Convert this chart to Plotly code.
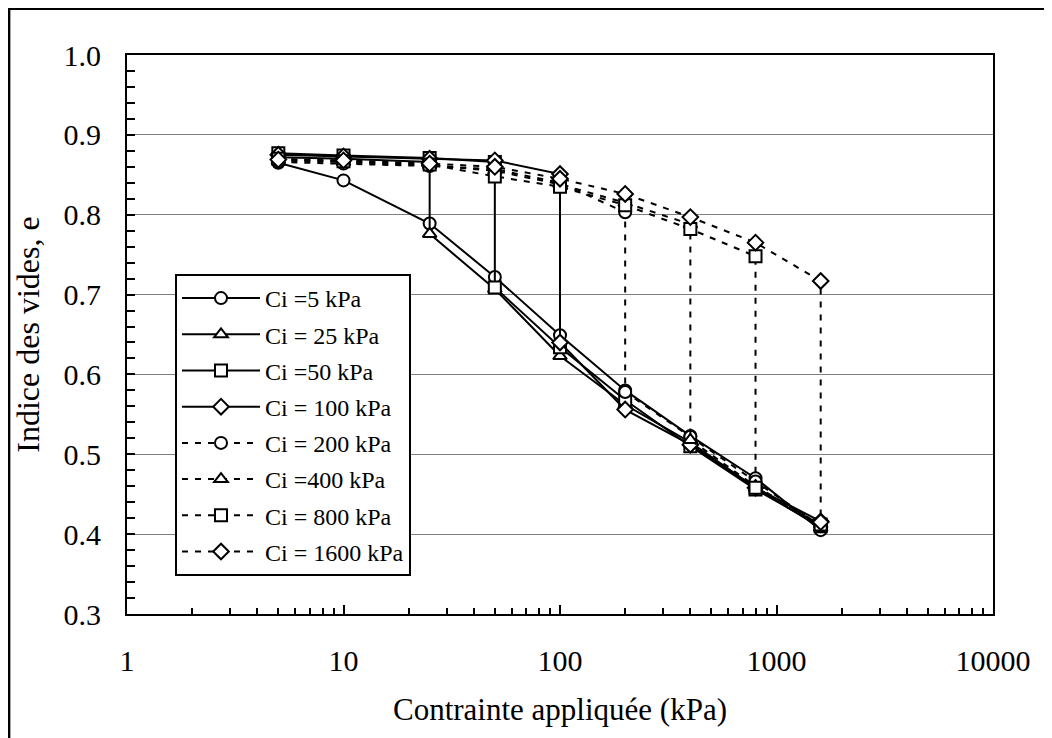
import plotly.graph_objects as go

# ---- data ----
stress = [5, 10, 25, 50, 100, 200, 400, 800, 1600]

names = ["Ci =5 kPa", "Ci = 25 kPa", "Ci =50 kPa", "Ci = 100 kPa",
         "Ci = 200 kPa", "Ci =400 kPa", "Ci = 800 kPa", "Ci = 1600 kPa"]

x_ci5 = [5, 10, 25, 50, 100, 200, 400, 800, 1600]
e_ci5 = [0.865, 0.843, 0.789, 0.722, 0.649, 0.580, 0.523, 0.470, 0.405]

x_ci25 = [5, 10, 25, 25, 50, 100, 200, 400, 800, 1600]
e_ci25 = [0.872, 0.870, 0.866, 0.776, 0.707, 0.623, 0.562, 0.515, 0.458, 0.408]

x_ci50 = [5, 10, 25, 50, 50, 100, 200, 400, 800, 1600]
e_ci50 = [0.877, 0.874, 0.871, 0.866, 0.709, 0.634, 0.568, 0.510, 0.456, 0.410]

x_ci100 = [5, 10, 25, 50, 100, 100, 200, 400, 800, 1600]
e_ci100 = [0.875, 0.873, 0.870, 0.868, 0.851, 0.640, 0.556, 0.512, 0.458, 0.416]

x_ci200 = [5, 10, 25, 50, 100, 200, 200, 400, 800, 1600]
e_ci200 = [0.866, 0.864, 0.861, 0.857, 0.840, 0.803, 0.578, 0.522, 0.466, 0.410]

x_ci400 = [5, 10, 25, 50, 100, 200, 400, 400, 800, 1600]
e_ci400 = [0.868, 0.866, 0.862, 0.855, 0.838, 0.815, 0.788, 0.518, 0.460, 0.412]

x_ci800 = [5, 10, 25, 50, 100, 200, 400, 800, 800, 1600]
e_ci800 = [0.870, 0.867, 0.863, 0.848, 0.835, 0.812, 0.782, 0.748, 0.458, 0.412]

x_ci1600 = [5, 10, 25, 50, 100, 200, 400, 800, 1600, 1600]
e_ci1600 = [0.869, 0.868, 0.864, 0.860, 0.845, 0.826, 0.797, 0.765, 0.717, 0.415]

x_tickvals = [1, 10, 100, 1000, 10000]
x_ticktext = ["1", "10", "100", "1000", "10000"]

series_x = [x_ci5, x_ci25, x_ci50, x_ci100, x_ci200, x_ci400, x_ci800, x_ci1600]
series_e = [e_ci5, e_ci25, e_ci50, e_ci100, e_ci200, e_ci400, e_ci800, e_ci1600]
symbols = ["circle", "triangle-up", "square", "diamond",
           "circle", "triangle-up", "square", "diamond"]
dashes = ["solid"] * 4 + ["6px,7px"] * 4

FONT = "Liberation Serif, Times New Roman, serif"

fig = go.Figure()
for i, (xs, es, nm, sym, ds) in enumerate(zip(series_x, series_e, names, symbols, dashes)):
    fig.add_trace(go.Scatter(
        x=xs, y=es, name=nm, mode="lines+markers", legendgroup=f"g{i}",
        line=dict(color="black", width=2, dash=ds),
        marker=dict(symbol=sym, size=12, color="white",
                    line=dict(color="black", width=2)),
    ))

# page offset (body margin) of 8px is compensated in the margins
OFF = 8
L, R, T, B = 127 - OFF, 59, 55 - OFF, 124
W, H = 1052 - OFF, 738 - OFF
pw, ph = W - L - R, H - T - B

fig.update_layout(
    width=W, height=H,
    margin=dict(l=L, r=R, t=T, b=B),
    paper_bgcolor="white", plot_bgcolor="white",
    font=dict(family=FONT, color="black", size=30),
    showlegend=True,
    legend=dict(
        x=(175 - 127) / pw, y=1 - (274 - 55) / ph,
        xanchor="left", yanchor="top",
        bgcolor="white", bordercolor="black", borderwidth=2,
        font=dict(family=FONT, size=24, color="black"),
        itemwidth=78, traceorder="grouped", tracegroupgap=2,
    ),
    shapes=[dict(type="rect", xref="paper", yref="paper",
                 x0=-L / pw + 0.001, x1=1.2, y0=-0.4, y1=1 + T / ph - 0.001,
                 line=dict(color="black", width=3), layer="below")],
)

fig.update_xaxes(
    type="log", range=[0, 4],
    tickvals=x_tickvals, ticktext=x_ticktext,
    ticks="inside", ticklen=9, tickwidth=2, tickcolor="black",
    minor=dict(ticks="inside", ticklen=6, tickwidth=2, tickcolor="black",
               dtick="D1", showgrid=False),
    showgrid=False, zeroline=False,
    showline=True, linecolor="black", linewidth=2, mirror=True,
    ticklabelstandoff=19,
    tickfont=dict(family=FONT, size=30, color="black"),
    title=dict(text="Contrainte appliquée (kPa)",
               font=dict(family=FONT, size=31, color="black"), standoff=22),
)
fig.update_yaxes(
    range=[0.3, 1.0], dtick=0.1, tickformat=".1f",
    ticks="inside", ticklen=8, tickwidth=2, tickcolor="black",
    minor=dict(ticks="inside", ticklen=8, tickwidth=2, tickcolor="black",
               dtick=0.02, showgrid=False),
    showgrid=True, gridcolor="#808080", gridwidth=1, zeroline=False,
    showline=True, linecolor="black", linewidth=2, mirror=True,
    ticklabelstandoff=18,
    tickfont=dict(family=FONT, size=30, color="black"),
    title=dict(text="Indice des vides, e",
               font=dict(family=FONT, size=32, color="black"), standoff=14),
)

fig.write_html("out.html")
